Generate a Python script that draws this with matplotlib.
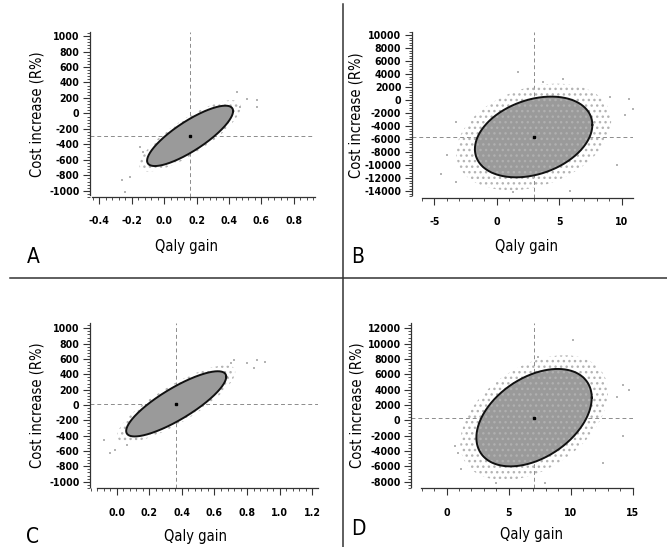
#!/usr/bin/env python3
import os
import numpy as np
import matplotlib
matplotlib.use('Agg')
import matplotlib.pyplot as plt
from matplotlib.lines import Line2D
from matplotlib.ticker import AutoMinorLocator
from matplotlib import font_manager
from matplotlib.font_manager import FontProperties

# --- data ---
PANEL_NAMES = ["A", "B", "C", "D"]

# mean point / ellipse centre
mean_qaly = [0.16, 2.95, 0.365, 7.05]
mean_cost = [-290, -5670, 15, 350]
# ellipse half extents and correlation
ell_half_qaly = [0.265, 4.7, 0.307, 4.65]
ell_half_cost = [390, 6200, 425, 6350]
ell_rho = [0.82, 0.30, 0.83, 0.41]
# spread of the scatter cloud relative to the ellipse
cloud_scale = [1.18, 1.32, 1.18, 1.28]

# isolated points at the edge of each cloud
outlier_qaly_a = [0.45, 0.51, 0.57, 0.57, 0.47, -0.24, -0.26, -0.21, -0.15, -0.13]
outlier_cost_a = [280, 190, 170, 80, 80, -1010, -860, -820, -430, -500]
outlier_qaly_b = [1.7, -3.3, -4.5, -3.3, -4.0, 10.6, 10.9, 10.3, 9.6, 9.1, 5.3, 5.9, 1.3, 3.7]
outlier_cost_b = [4350, -3300, -11300, -12600, -8500, 100, -1300, -2300, -10000, 500, 3300, -13900, -14100, 2800]
outlier_qaly_c = [0.86, 0.91, 0.80, 0.84, -0.08, -0.04, -0.01, 0.06, 0.72, 0.70]
outlier_cost_c = [590, 565, 545, 480, -455, -630, -590, -520, 590, 545]
outlier_qaly_d = [10.2, 0.7, 0.9, 1.2, 14.7, 14.2, 14.2, 13.7, 7.9, 4.0, 12.6, 7.4]
outlier_cost_d = [10500, -3400, -4300, -6300, 3950, 4600, -2100, 3100, -8200, -8200, -5600, 8300]
outliers_qaly = [outlier_qaly_a, outlier_qaly_b, outlier_qaly_c, outlier_qaly_d]
outliers_cost = [outlier_cost_a, outlier_cost_b, outlier_cost_c, outlier_cost_d]

# ticks
xticks_a = [-0.4, -0.2, 0.0, 0.2, 0.4, 0.6, 0.8]
xticks_b = [-5, 0, 5, 10]
xticks_c = [0.0, 0.2, 0.4, 0.6, 0.8, 1.0, 1.2]
xticks_d = [0, 5, 10, 15]
yticks_a = [-1000, -800, -600, -400, -200, 0, 200, 400, 600, 800, 1000]
yticks_b = [-14000, -12000, -10000, -8000, -6000, -4000, -2000, 0, 2000, 4000, 6000, 8000, 10000]
yticks_c = yticks_a
yticks_d = [-8000, -6000, -4000, -2000, 0, 2000, 4000, 6000, 8000, 10000, 12000]
XTICKS = [xticks_a, xticks_b, xticks_c, xticks_d]
YTICKS = [yticks_a, yticks_b, yticks_c, yticks_d]
XFMT = ["{:.1f}", "{:d}", "{:.1f}", "{:d}"]

X_LABEL = "Qaly gain"
Y_LABEL = "Cost increase (R%)"

# --- layout (pixels measured on the 667x547 reference) ---
W, H = 667, 547
LAYOUT = {
    # left, right, top, bottom of axes box
    "A": dict(box=(90, 315, 32, 197), xlim=(-0.457, 0.93), ylim=(-1080, 1052),
              xspine=(-0.447, 0.93), yspine=(-1055, 1052),
              xlab=(0.431, -0.30), ylab=(-0.235, 0.5), letter=(33, 257)),
    "B": dict(box=(411.7, 633.3, 31.7, 197.7), xlim=(-6.81, 10.93), ylim=(-15000, 10500),
              xspine=(-6.0, 10.93), yspine=(-14660, 10500),
              xlab=(0.519, -0.295), ylab=(-0.25, 0.5), letter=(358, 257)),
    "C": dict(box=(90, 318.3, 322.7, 488.3), xlim=(-0.164, 1.237), ylim=(-1086, 1073),
              xspine=(-0.123, 1.237), yspine=(-1065, 1073),
              xlab=(0.464, -0.292), ylab=(-0.232, 0.5), letter=(33, 537)),
    "D": dict(box=(411, 633.3, 322.7, 488.3), xlim=(-2.87, 15.05), ylim=(-8860, 12730),
              xspine=(-2.07, 15.05), yspine=(-8650, 12730),
              xlab=(0.543, -0.282), ylab=(-0.245, 0.5), letter=(358, 529)),
}

CLOUD_GREY = "#9a9a9a"
HALO_GREY = "#b4b4b4"


def pick_font(patterns, family, weight, size):
    # prefer a narrow / condensed face file when one is installed
    files = [f.fname for f in font_manager.fontManager.ttflist]
    for p in patterns:
        for fname in files:
            if os.path.basename(fname).startswith(p):
                return FontProperties(fname=fname, size=size)
    return FontProperties(family=family, weight=weight, size=size)


BOLD_NARROW = ["LiberationSansNarrow-Bold.", "NotoSans-CondensedBold.",
               "DejaVuSansCondensed-Bold.", "RobotoCondensed-Bold."]
REG_NARROW = ["LiberationSansNarrow-Regular.", "NotoSans-CondensedMedium.",
              "NotoSans-Condensed.", "DejaVuSansCondensed.", "RobotoCondensed-Regular."]

TICK_FP = pick_font(BOLD_NARROW, "Roboto", "bold", 7.6)
LABEL_FP = pick_font(REG_NARROW, "Roboto", "medium", 10.5)
LETTER_FP = pick_font(REG_NARROW, "Roboto", "medium", 15)


def ellipse_path(cx, cy, hx, hy, rho, k=1.0, n=400):
    t = np.linspace(0, 2 * np.pi, n)
    x = cx + k * hx * np.cos(t)
    y = cy + k * hy * (rho * np.cos(t) + np.sqrt(1 - rho ** 2) * np.sin(t))
    return x, y


def draw_panel(fig, i):
    name = PANEL_NAMES[i]
    lay = LAYOUT[name]
    l, r, t, b = lay["box"]
    ax = fig.add_axes([l / W, 1 - b / H, (r - l) / W, (b - t) / H])
    ax.set_xlim(*lay["xlim"])
    ax.set_ylim(*lay["ylim"])

    cx, cy = mean_qaly[i], mean_cost[i]
    hx, hy, rho = ell_half_qaly[i], ell_half_cost[i], ell_rho[i]

    # dashed cross through the mean
    ax.axvline(cx, color="#8c8c8c", lw=0.7, ls=(0, (4, 3)), zorder=1)
    ax.axhline(cy, color="#8c8c8c", lw=0.7, ls=(0, (4, 3)), zorder=1)

    # sparse outer part of the cloud, stippled
    hxs, hys = ellipse_path(cx, cy, hx, hy, rho, k=cloud_scale[i])
    ax.fill(hxs, hys, facecolor="none", edgecolor=HALO_GREY, hatch="...",
            lw=0, zorder=2)
    ax.scatter(outliers_qaly[i], outliers_cost[i], s=2.5, color=HALO_GREY,
               marker="s", lw=0, zorder=2)

    # dense core + ellipse
    ex, ey = ellipse_path(cx, cy, hx, hy, rho)
    ax.fill(ex, ey, facecolor=CLOUD_GREY, edgecolor="none", zorder=3)
    if name in ("B", "D"):
        ax.fill(ex, ey, facecolor="none", edgecolor="#b0b0b0", hatch="...",
                lw=0, zorder=3)
    ax.plot(ex, ey, color="#111111", lw=1.4, zorder=4)
    ax.plot([cx], [cy], marker="s", ms=1.6, color="black", zorder=5)

    # axes styling
    for side in ("top", "right"):
        ax.spines[side].set_visible(False)
    ax.spines["bottom"].set_bounds(*lay["xspine"])
    ax.spines["left"].set_bounds(*lay["yspine"])
    for side in ("bottom", "left"):
        ax.spines[side].set_linewidth(0.9)
        ax.spines[side].set_color("#333333")

    ax.set_xticks(XTICKS[i])
    ax.set_xticklabels([XFMT[i].format(v) for v in XTICKS[i]],
                       fontproperties=TICK_FP)
    ax.set_yticks(YTICKS[i])
    ax.set_yticklabels([str(v) for v in YTICKS[i]], fontproperties=TICK_FP)
    ax.xaxis.set_minor_locator(AutoMinorLocator(5))
    ax.yaxis.set_minor_locator(AutoMinorLocator(5))
    ax.tick_params(which="major", length=5, width=0.8, color="#333333", pad=2.5)
    ax.tick_params(which="minor", length=2, width=0.6, color="#333333")
    ax.tick_params(axis="x", which="major", pad=9)

    ax.set_xlabel(X_LABEL, fontproperties=LABEL_FP)
    ax.set_ylabel(Y_LABEL, fontproperties=LABEL_FP)
    ax.xaxis.label.set_va("center")
    ax.xaxis.set_label_coords(*lay["xlab"])
    ax.yaxis.label.set_va("center")
    ax.yaxis.set_label_coords(*lay["ylab"])

    lx, ly = lay["letter"]
    fig.text(lx / W, 1 - ly / H, name, fontproperties=LETTER_FP,
             ha="center", va="center")
    return ax


def main():
    fig = plt.figure(figsize=(W / 100, H / 100), dpi=100)
    fig.patch.set_facecolor("white")

    for i in range(len(PANEL_NAMES)):
        draw_panel(fig, i)

    # panel dividers
    fig.add_artist(Line2D([10 / W, 1.0], [1 - 278 / H, 1 - 278 / H],
                          color="#333333", lw=1.1))
    fig.add_artist(Line2D([343 / W, 343 / W], [0.0, 1 - 4 / H],
                          color="#333333", lw=1.1))

    fig.savefig("out.png", dpi=100)


if __name__ == "__main__":
    main()
